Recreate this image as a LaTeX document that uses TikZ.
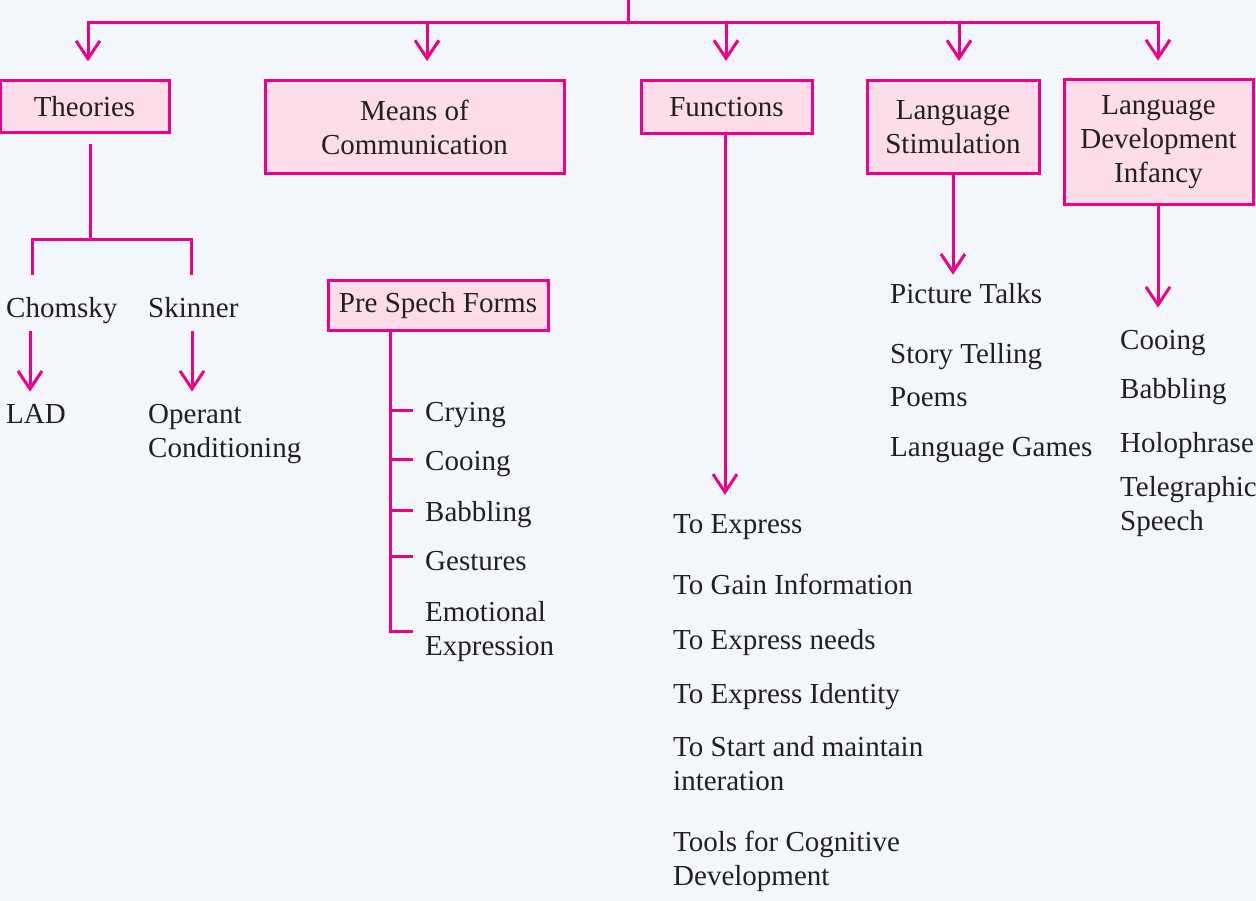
\documentclass[tikz,border=0pt]{standalone}
\usepackage{fontspec}
\setmainfont{Liberation Serif}
\usepackage{tikz}
\usetikzlibrary{positioning}
\usetikzlibrary{arrows.meta}

\definecolor{magline}{HTML}{EC008C}
\definecolor{boxfill}{HTML}{FDDDEA}
\definecolor{bgblue}{HTML}{F3F7FC}
\definecolor{inkgray}{HTML}{231F20}

\tikzset{
  link/.style={draw=magline, line width=3pt},
  arr/.style={link, -{Straight Barb[length=18pt,width=24pt]}},
  topic/.style={draw=magline, fill=boxfill, line width=3pt, align=center, inner sep=4pt},
  leaf/.style={anchor=base west, inner sep=0pt, align=left}
}

\begin{document}
\begin{tikzpicture}[x=1pt, y=-1pt, font=\fontsize{29}{34}\selectfont, text=inkgray]
  \fill[bgblue] (0,0) rectangle (1256,901);
  \useasboundingbox (0,0) rectangle (1256,901);
  % nodes %
  \node[topic, minimum width=169pt, minimum height=52pt] (theo) at (84.5,107) {Theories};
  \node[topic, minimum width=299pt, minimum height=93pt] (means) at (414.5,127) {Means of\\Communication};
  \node[topic, minimum width=171pt, minimum height=53pt] (func) at (726.5,107) {Functions};
  \node[topic, minimum width=172pt, minimum height=93pt] (stim) at (953,127) {Language\\Stimulation};
  \node[topic, minimum width=189pt, minimum height=125pt] (dev) at (1158.5,142.5) {Language\\Development\\Infancy};
  \node[topic, minimum width=220pt, minimum height=50pt] (psf) at (438,306) {Pre Spech Forms};

  % base of a two-line leaf = last line
  \node[leaf] (chom) at (6,318) {Chomsky};
  \node[leaf] (skin) at (148,318) {Skinner};
  \node[leaf] (lad) at (6,423) {LAD};
  \node[leaf] (oper) at (148,457) {Operant\\Conditioning};

  \node[leaf] (cry) at (425,421) {Crying};
  \node[leaf] (coo) at (425,470) {Cooing};
  \node[leaf] (bab) at (425,521) {Babbling};
  \node[leaf] (ges) at (425,570) {Gestures};
  \node[leaf] (emo) at (425,655) {Emotional\\Expression};

  \node[leaf] (toexp) at (673,533) {To Express};
  \node[leaf] (gain) at (673,594) {To Gain Information};
  \node[leaf] (needs) at (673,649) {To Express needs};
  \node[leaf] (ident) at (673,703) {To Express Identity};
  \node[leaf] (inter) at (673,790) {To Start and maintain\\interation};
  \node[leaf] (tools) at (673,885) {Tools for Cognitive\\Development};

  \node[leaf] (pic) at (890,304) {Picture Talks};
  \node[leaf] (story) at (890,363) {Story Telling};
  \node[leaf] (poem) at (890,406) {Poems};
  \node[leaf] (games) at (890,456) {Language Games};

  \node[leaf] (dcoo) at (1120,349) {Cooing};
  \node[leaf] (dbab) at (1120,398) {Babbling};
  \node[leaf] (holo) at (1120,452) {Holophrase};
  \node[leaf] (tele) at (1120,530) {Telegraphic\\Speech};

  % edges %
  \coordinate (top) at (628,0);
  \coordinate (bus) at (628,23);
  \draw[link] (top) -- (bus);
  \draw[link, {Straight Barb[length=18pt,width=24pt]}-{Straight Barb[length=18pt,width=24pt]}, shorten <=18pt, shorten >=18pt]
    ([xshift=3.5pt]theo.north) |- (bus) -| ([xshift=-0.5pt]dev.north);
  \draw[arr, shorten >=18pt] ([xshift=12.5pt]means.north |- bus) -- ([xshift=12.5pt]means.north);
  \draw[arr, shorten >=18pt] ([xshift=-0.5pt]func.north |- bus) -- ([xshift=-0.5pt]func.north);
  \draw[arr, shorten >=18pt] ([xshift=6pt]stim.north |- bus) -- ([xshift=6pt]stim.north);

  \coordinate (tsplit) at (90,240);
  \draw[link, shorten <=10pt] ([xshift=5.5pt]theo.south) -- (tsplit);
  \draw[link] ([xshift=26pt,yshift=23pt]chom.north west) |- (tsplit) -| ([xshift=43pt,yshift=23pt]skin.north west);
  \draw[arr, shorten <=7pt, shorten >=12pt] ([xshift=24pt]chom.south west) -- ([xshift=24pt]chom.south west |- lad.north);
  \draw[arr, shorten <=13pt, shorten >=12pt] ([xshift=44pt]skin.south west) -- ([xshift=44pt]skin.south west |- oper.north);

  \coordinate (stem) at ([xshift=-48pt]psf.south);
  \draw[link] (stem) |- ([xshift=-12pt]emo.west);
  \foreach \n in {cry,coo,bab,ges}
    \draw[link] ([yshift=4pt]stem |- \n.west) -- ([xshift=-12pt,yshift=4pt]\n.west);

  \draw[arr, shorten >=19pt] ([xshift=-1.5pt]func.south) -- ([xshift=-1.5pt]func.south |- toexp.north);
  \draw[arr, shorten >=9pt] (stim.south) -- (stim.south |- pic.north);
  \draw[arr, shorten >=22pt] ([xshift=-0.5pt]dev.south) -- ([xshift=-0.5pt]dev.south |- dcoo.north);
\end{tikzpicture}
\end{document}
